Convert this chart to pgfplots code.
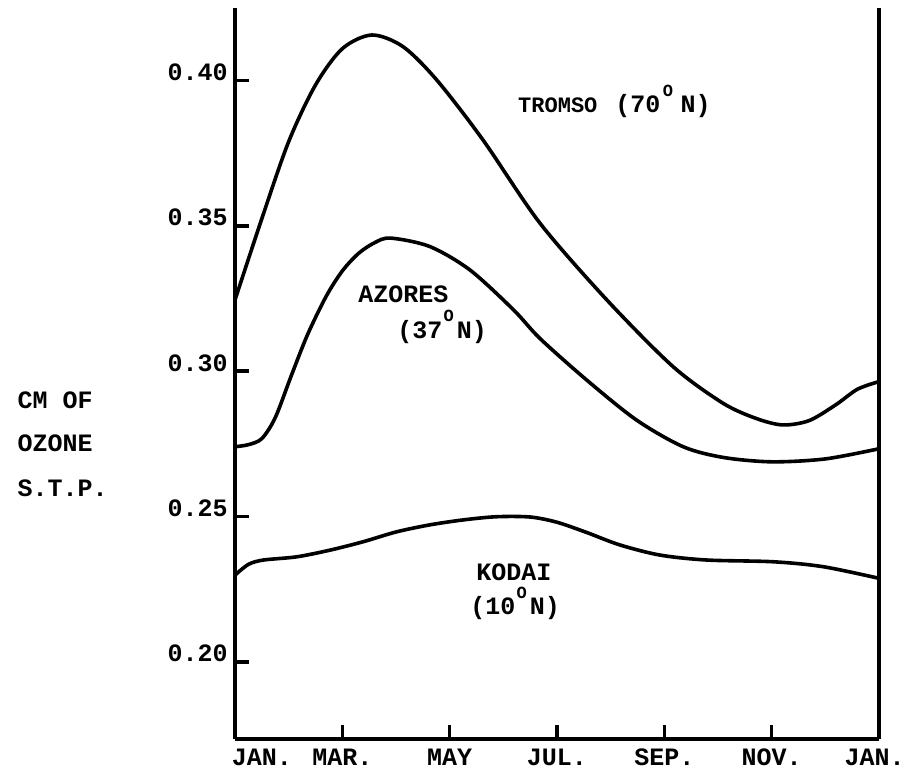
\documentclass[border=0pt]{standalone}
\usepackage{pgfplots}
\pgfplotsset{compat=1.18}
\usepackage{fontspec}
\setmainfont{Liberation Mono}
\newcommand\supO{\hspace{0.05em}\raisebox{0.66em}{\fontsize{8.5}{9}\selectfont O}\hspace{0.12em}}
\newcommand\supOw{\hspace{0.1em}\raisebox{0.66em}{\fontsize{8.5}{9}\selectfont O}\hspace{0.3em}}
\newcommand\lab{\bfseries\fontsize{12.5}{15}\selectfont}
\newcommand\labs{\bfseries\fontsize{11}{13}\selectfont}
\begin{document}
\begin{tikzpicture}
\begin{axis}[
  scale only axis, width=322pt, height=365.5pt,
  xmin=0, xmax=12, ymin=0.1734, ymax=0.425,
  axis x line*=bottom, axis y line*=box,
  axis line style={line width=1.8pt, black},
  xtick={2,4,6,8,10}, xticklabels={MAR.,MAY,JUL.,SEP.,NOV.},
  extra x ticks={0.5,11.92}, extra x tick labels={JAN.,JAN.},
  extra x tick style={major tick length=0pt},
  ytick={0.20,0.25,0.30,0.35,0.40},
  yticklabels={0.20,0.25,0.30,0.35,0.40},
  ytick pos=left, tick align=inside, major tick length=7pt,
  tick style={line width=1.8pt, black},
  xticklabel style={anchor=base, yshift=-13.5pt},
  yticklabel style={anchor=base east, inner sep=0pt, xshift=-3.5pt, yshift=0pt},
  ticklabel style={font=\lab},
  clip=false,
]
% TROMSO
\addplot[line width=1.8pt, black, smooth, tension=0.5] coordinates {
(0,0.3245) (0.5,0.3525) (1.0,0.3790) (1.5,0.3985) (2.0,0.4110) (2.55,0.4157)
(3.13,0.4117) (3.76,0.4002) (4.62,0.3796) (5.68,0.3510)
(6.93,0.3245) (8.16,0.3016) (9.09,0.2890) (9.7,0.2838) (10.2,0.2815) (10.7,0.2830)
(11.2,0.2885) (11.6,0.2938) (12,0.2964)
};
% AZORES
\addplot[line width=1.8pt, black, smooth, tension=0.5] coordinates {
(0,0.2740) (0.25,0.2747) (0.5,0.2768) (0.75,0.2840) (1.05,0.2985) (1.35,0.3125)
(1.7,0.3258) (2.0,0.3345) (2.3,0.3405) (2.6,0.3442) (2.9,0.3458)
(3.63,0.3429) (4.38,0.3348) (5.19,0.3211) (5.68,0.3113)
(6.55,0.2970) (7.48,0.2832) (8.35,0.2740) (9.1,0.2703) (10.0,0.2688) (11.0,0.2698) (12,0.2733)
};
% KODAI
\addplot[line width=1.8pt, black, smooth, tension=0.5] coordinates {
(0,0.2298) (0.25,0.2335) (0.53,0.2350) (1.15,0.2361) (1.77,0.2384) (2.39,0.2413)
(3.01,0.2447) (3.63,0.2471) (4.25,0.2488) (4.87,0.2499) (5.5,0.2498) (6.0,0.2480)
(6.55,0.2445) (7.17,0.2402) (7.92,0.2367) (8.79,0.2350) (10.03,0.2344) (10.96,0.2327) (12,0.2287)
};
\node[anchor=base west, inner sep=0pt, font=\labs] at (axis cs:5.27,0.389) {TROMSO\hspace{9pt}{\lab(70\supOw N)}};
\node[anchor=base west, inner sep=0pt, font=\lab] at (axis cs:2.29,0.3235) {AZORES};
\node[anchor=base west, inner sep=0pt, font=\lab] at (axis cs:3.02,0.3113) {(37\supO N)};
\node[anchor=base west, inner sep=0pt, font=\lab] at (axis cs:4.49,0.2281) {KODAI};
\node[anchor=base west, inner sep=0pt, font=\lab] at (axis cs:4.38,0.2161) {(10\supO N)};
\node[anchor=base west, inner sep=0pt, font=\lab] at (axis cs:-4.06,0.2873) {CM OF};
\node[anchor=base west, inner sep=0pt, font=\lab] at (axis cs:-4.06,0.2722) {OZONE};
\node[anchor=base west, inner sep=0pt, font=\lab] at (axis cs:-4.06,0.2570) {S.T.P.};
\end{axis}
\pgfresetboundingbox
\path[use as bounding box] (-117.5pt,-17.5pt) rectangle (334pt,369.5pt);
\end{tikzpicture}
\end{document}
